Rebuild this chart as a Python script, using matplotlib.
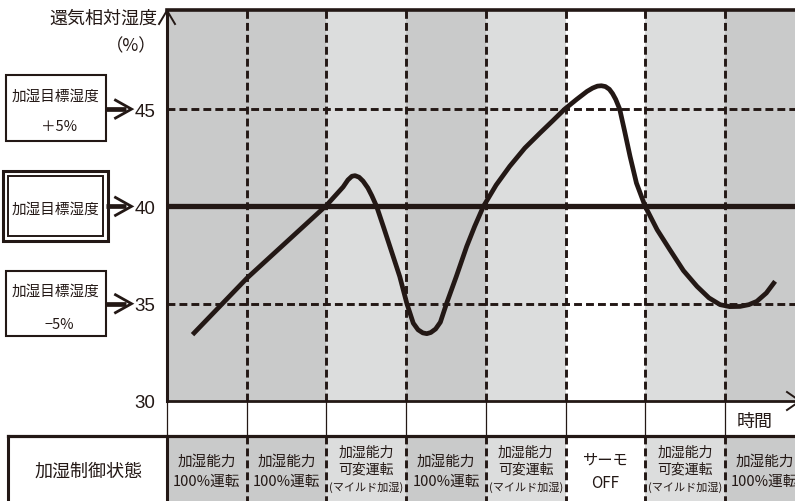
import matplotlib
matplotlib.use('Agg')
import matplotlib.pyplot as plt
from matplotlib import transforms
from matplotlib.patches import Rectangle

plt.rcParams['font.family'] = ['Noto Sans CJK JP', 'DejaVu Sans']

# ---------------- data ----------------
y_label = '還気相対湿度'
y_unit = '（%）'
x_label = '時間'
row_label = '加湿制御状態'

ytick_values = [30, 35, 40, 45]
ytick_labels = ['30', '35', '40', '45']
target_rh = 40
upper_rh = 45
lower_rh = 35

box_upper = ['加湿目標湿度', '＋5%']
box_target = ['加湿目標湿度']
box_lower = ['加湿目標湿度', '−5%']

state_lines = [
    ['加湿能力', '100%運転'],
    ['加湿能力', '100%運転'],
    ['加湿能力', '可変運転', '(マイルド加湿)'],
    ['加湿能力', '100%運転'],
    ['加湿能力', '可変運転', '(マイルド加湿)'],
    ['サーモ', 'OFF'],
    ['加湿能力', '可変運転', '(マイルド加湿)'],
    ['加湿能力', '100%運転'],
]
state_shade = ['dark', 'dark', 'light', 'dark', 'light', 'white', 'light', 'dark']

curve_time = [0.32, 1.00, 2.00, 2.21, 2.27, 2.32, 2.36, 2.41, 2.46, 2.52, 2.57, 2.63, 2.72,
              2.84, 2.92, 3.01, 3.09, 3.15, 3.21, 3.26, 3.31, 3.37, 3.43, 3.51, 3.63, 3.76,
              3.86, 3.97, 4.13, 4.30, 4.49, 4.68, 4.84, 4.99, 5.14, 5.27, 5.34, 5.40,
              5.45, 5.50, 5.55, 5.59, 5.63, 5.68, 5.74, 5.81, 5.89, 6.00, 6.15, 6.31,
              6.48, 6.65, 6.80, 6.94, 7.06, 7.19, 7.30, 7.40, 7.52, 7.63]
curve_rh = [33.41, 36.30, 40.05, 41.00, 41.36, 41.55, 41.58, 41.50, 41.30, 40.95, 40.55, 40.00, 38.90,
            37.40, 36.40, 35.00, 34.00, 33.66, 33.50, 33.46, 33.52, 33.70, 34.05, 35.04, 36.40, 37.94,
            38.97, 40.00, 41.10, 42.06, 43.00, 43.77, 44.40, 45.00, 45.50, 45.91, 46.08, 46.18,
            46.20, 46.16, 46.02, 45.80, 45.50, 45.00, 43.90, 42.57, 41.20, 40.00, 38.80, 37.77,
            36.70, 35.89, 35.30, 34.95, 34.85, 34.86, 34.95, 35.12, 35.55, 36.15]

# ---------------- style ----------------
INK = '#231815'
SHADES = {'dark': '#c9caca', 'light': '#dcdddd', 'white': '#ffffff'}
DASH = (0, (2.7, 1.4))

W, H = 795, 502
fig = plt.figure(figsize=(W / 100, H / 100), dpi=100)
fig.patch.set_facecolor('white')

# main plot axes (x extends past the right edge of the figure)
px_per_unit = 19.46
col_w = 79.7
ax = fig.add_axes([167 / W, 100 / H, 8 * col_w / W, 391 / H])
ax.set_xlim(0, len(state_lines))
ax.set_ylim(30, 30 + 391 / px_per_unit)

for i, sh in enumerate(state_shade):
    ax.axvspan(i, i + 1, color=SHADES[sh], lw=0, zorder=0)

ax.vlines(range(1, len(state_lines)), 30, 52, colors=INK, lw=2.1,
          linestyles=[DASH], zorder=2)
for lv in (upper_rh, lower_rh):
    ax.axhline(lv, color=INK, lw=2.1, linestyle=DASH, zorder=2)
ax.axhline(target_rh, color=INK, lw=3.8, zorder=3)

ax.plot(curve_time, curve_rh, color=INK, lw=3.4, solid_joinstyle='round',
        solid_capstyle='butt', zorder=4)

ax.spines['right'].set_visible(False)
ax.spines['left'].set_linewidth(2.2)
ax.spines['top'].set_linewidth(2.6)
ax.spines['bottom'].set_linewidth(2.0)
for s in ax.spines.values():
    s.set_color(INK)
ax.set_xticks([])
ax.set_yticks(ytick_values)
ax.set_yticklabels(ytick_labels, fontfamily='Liberation Sans', fontsize=13.5)
ax.tick_params(axis='y', length=0, pad=8.6, labelcolor=INK)

# overlay in pixel coordinates
ov = fig.add_axes([0, 0, 1, 1], zorder=5)
ov.set_xlim(0, W)
ov.set_ylim(H, 0)
ov.axis('off')
ov.patch.set_visible(False)

tb = transforms.blended_transform_factory(ax.transData, ov.transData)   # x: columns, y: px
tl = transforms.blended_transform_factory(ov.transData, ax.transData)   # x: px, y: RH

# axis arrows
ov.plot([159, 167, 175], [25, 11.5, 25], color=INK, lw=1.4, solid_joinstyle='miter')
ov.plot([787, 800, 787], [393, 402, 411], color=INK, lw=1.4)

ov.text(157, 18.5, y_label, ha='right', va='center', fontsize=13, color=INK)
ov.text(131, 46.7, y_unit, ha='center', va='center', fontsize=12.5, color=INK)

# level boxes
def rect(x0, y0, x1, y1, lw):
    ov.add_patch(Rectangle((x0, y0), x1 - x0, y1 - y0, fill=False, ec=INK, lw=lw))

rect(5.7, 76, 105.7, 141.7, 1.5)
ov.text(55.7, 96.7, box_upper[0], ha='center', va='center', fontsize=10.5, color=INK)
ov.text(59, 127.3, box_upper[1], ha='center', va='center', fontsize=10.5, color=INK)

rect(3.3, 172, 108.3, 241.7, 2.2)
rect(7.6, 176.7, 102.7, 236.7, 1.4)
ov.text(55.5, 209.3, box_target[0], ha='center', va='center', fontsize=10.5, color=INK)

rect(5.7, 271.7, 105.7, 336.7, 1.5)
ov.text(55.7, 291.7, box_lower[0], ha='center', va='center', fontsize=10.5, color=INK)
ov.text(59, 325, box_lower[1], ha='center', va='center', fontsize=10.5, color=INK)

for lv in (upper_rh, target_rh, lower_rh):
    ov.plot([106, 126], [lv, lv], transform=tl, color=INK, lw=3.4, solid_capstyle='butt')
    ov.plot([115.5, 131.5, 115.5], [lv + 0.46, lv, lv - 0.46], transform=tl,
            color=INK, lw=2.0, solid_joinstyle='miter')

# white row under the plot
for i in range(len(state_lines)):
    ov.plot([i, i], [402, 437], transform=tb, color=INK, lw=0.9)
ov.text(7.37, 421.7, x_label, transform=tb, ha='center', va='center', fontsize=13, color=INK)

# state table row
for i, sh in enumerate(state_shade):
    ov.add_patch(Rectangle((i, 437), 1, 70, transform=tb, fc=SHADES[sh], ec='none', zorder=1))
ov.plot([8, W], [437.3, 437.3], color=INK, lw=2.3, zorder=3)
ov.plot([8.3, 8.3], [437, H], color=INK, lw=2.2, zorder=3)
ov.plot([0, 0], [437, H], transform=tb, color=INK, lw=2.2, zorder=3)
for i in range(1, len(state_lines)):
    ov.plot([i, i], [437, H], transform=tb, color=INK, lw=2.1, linestyle=DASH, zorder=3)
ov.text(88.5, 471.7, row_label, ha='center', va='center', fontsize=13, color=INK)

for i, lines in enumerate(state_lines):
    cx = i + 0.5
    if len(lines) == 3:
        ys, fss = [453, 470, 487], [10, 10, 8]
    elif lines[1] == 'OFF':
        ys, fss = [460, 483.3], [11, 11]
    else:
        ys, fss = [461.7, 481.7], [10.5, 10.5]
    for t, yy, fs in zip(lines, ys, fss):
        ov.text(cx, yy, t, transform=tb, ha='center', va='center', fontsize=fs,
                color=INK, zorder=4)

fig.savefig('out.png', dpi=100)
